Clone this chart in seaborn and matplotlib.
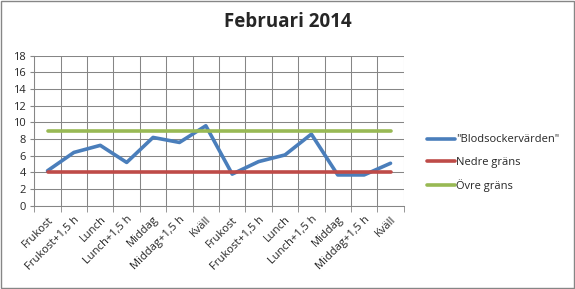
import matplotlib
matplotlib.use("Agg")
import matplotlib.pyplot as plt
import seaborn as sns
import pandas as pd
import numpy as np

categories = ["Frukost", "Frukost+1,5 h", "Lunch", "Lunch+1,5 h", "Middag", "Middag+1,5 h", "Kväll",
              "Frukost", "Frukost+1,5 h", "Lunch", "Lunch+1,5 h", "Middag", "Middag+1,5 h", "Kväll"]
blodsocker = [4.2, 6.4, 7.25, 5.2, 8.2, 7.6, 9.6, 3.8, 5.3, 6.1, 8.6, 3.7, 3.7, 5.1]
nedre = [4] * 14
ovre = [9] * 14
series_names = ['"Blodsockervärden"', "Nedre gräns", "Övre gräns"]
colors = ["#4A7EBB", "#BE4B48", "#98B954"]

sns.set_style("white")
plt.rcParams["font.family"] = ["Open Sans", "DejaVu Sans"]

pos = np.arange(len(categories))
df = pd.DataFrame({
    "pos": np.tile(pos, 3),
    "value": blodsocker + nedre + ovre,
    "serie": np.repeat(series_names, len(categories)),
})

fig = plt.figure(figsize=(5.75, 2.89), dpi=100)
ax = fig.add_axes([0.0597, 0.288, 0.6424, 0.519])

sns.lineplot(data=df, x="pos", y="value", hue="serie", palette=colors,
             hue_order=series_names, linewidth=2.6, ax=ax, legend=False)

ax.set_xlim(-0.5, len(categories) - 0.5)
ax.set_ylim(0, 18)
ax.set_yticks(range(0, 19, 2))
ax.set_xticks(pos)
ax.set_xticklabels(categories, rotation=45, ha="right", rotation_mode="anchor", fontsize=8)
ax.tick_params(axis="x", length=0, pad=6)
ax.tick_params(axis="y", labelsize=8, length=3, color="#868686", direction="out", left=True, pad=3)
ax.set_xticks(np.arange(-0.5, len(categories) + 0.5, 1), minor=True)
ax.tick_params(axis="x", which="minor", length=4, color="#868686", bottom=True)
ax.grid(True, which="major", axis="y", color="#868686", linewidth=0.75)
ax.grid(True, which="minor", axis="x", color="#868686", linewidth=0.75)
ax.set_axisbelow(True)
ax.set_xlabel("")
ax.set_ylabel("")
for s in ["top", "right"]:
    ax.spines[s].set_visible(False)
for s in ["left", "bottom"]:
    ax.spines[s].set_color("#868686")
    ax.spines[s].set_linewidth(0.75)

fig.text(0.5, 0.925, "Februari 2014", ha="center", va="center", fontsize=13.5, fontweight="bold")

handles = [plt.Line2D([], [], color=c, linewidth=2.6) for c in colors]
fig.legend(handles, series_names, loc="center left", bbox_to_anchor=(0.725, 0.436),
           frameon=False, fontsize=8, handlelength=2.5, handletextpad=0.1, labelspacing=1.0)

fig.patches.append(plt.Rectangle((0.001, 0.002), 0.997, 0.995, transform=fig.transFigure,
                                 fill=False, edgecolor="#868686", linewidth=1))

fig.savefig("out.png", dpi=100)
